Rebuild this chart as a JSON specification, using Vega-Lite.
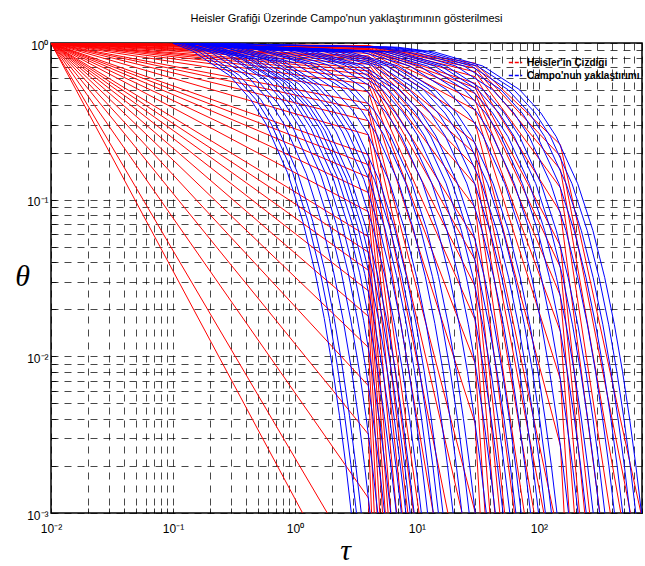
{
"$schema": "https://vega.github.io/schema/vega-lite/v6.json",
"width": 591, "height": 470,
"autosize": "none",
"padding": {"left": 51, "top": 43, "right": 3, "bottom": 53},
"background": "white",
"title": {"text": "Heisler Grafiği Üzerinde Campo'nun yaklaştırımının gösterilmesi", "font": "Liberation Sans", "fontSize": 11, "fontWeight": "normal", "color": "#000", "anchor": "middle", "offset": 15},
"config": {"view": {"stroke": "#000", "strokeWidth": 1.5}, "font": "Liberation Sans"},
"datasets": {
"h": [
{"c":2,"t":0.01,"v":1},{"c":2,"t":4,"v":0.000164},
{"c":3,"t":0.01,"v":1},{"c":3,"t":4,"v":0.000358},
{"c":4,"t":0.01,"v":1},{"c":4,"t":4,"v":0.001245},{"c":4,"t":30,"v":4e-23},
{"c":5,"t":0.01,"v":1},{"c":5,"t":4,"v":0.00318},{"c":5,"t":30,"v":5e-20},
{"c":6,"t":0.01,"v":1},{"c":6,"t":4,"v":0.00649},{"c":6,"t":30,"v":1.2e-17},
{"c":7,"t":0.01,"v":1},{"c":7,"t":4,"v":0.0114},{"c":7,"t":30,"v":9.2e-16},
{"c":8,"t":0.01,"v":1},{"c":8,"t":4,"v":0.018},{"c":8,"t":30,"v":3.1e-14},
{"c":9,"t":0.01,"v":1},{"c":9,"t":4,"v":0.0262},{"c":9,"t":30,"v":5.6e-13},
{"c":10,"t":0.01,"v":1},{"c":10,"t":4,"v":0.0354},{"c":10,"t":30,"v":5.9e-12},
{"c":11,"t":0.01,"v":1},{"c":11,"t":4,"v":0.0462},{"c":11,"t":30,"v":4.5e-11},
{"c":12,"t":0.01,"v":1},{"c":12,"t":4,"v":0.058},{"c":12,"t":30,"v":2.55e-10},
{"c":13,"t":0.01,"v":1},{"c":13,"t":4,"v":0.0838},{"c":13,"t":30,"v":4.4e-9},
{"c":14,"t":0.01,"v":1},{"c":14,"t":4,"v":0.111},{"c":14,"t":30,"v":3.85e-8},
{"c":15,"t":0.01,"v":1},{"c":15,"t":4,"v":0.139},{"c":15,"t":30,"v":2.2e-7},
{"c":16,"t":0.01,"v":1},{"c":16,"t":4,"v":0.167},{"c":16,"t":30,"v":9.3e-7},
{"c":17,"t":0.01,"v":1},{"c":17,"t":4,"v":0.194},{"c":17,"t":30,"v":2.95e-6},
{"c":18,"t":0.01,"v":1},{"c":18,"t":4,"v":0.259},{"c":18,"t":30,"v":2.75e-5},
{"c":19,"t":0.01,"v":1},{"c":19,"t":4,"v":0.319},{"c":19,"t":30,"v":1.39e-4},
{"c":20,"t":0.01,"v":1},{"c":20,"t":4,"v":0.37},{"c":20,"t":30,"v":4.37e-4},
{"c":21,"t":0.01,"v":1},{"c":21,"t":4,"v":0.412},{"c":21,"t":30,"v":0.00101},{"c":21,"t":150,"v":9e-16},
{"c":22,"t":0.01,"v":1},{"c":22,"t":4,"v":0.4875},{"c":22,"t":30,"v":0.00374},{"c":22,"t":150,"v":6.3e-13},
{"c":23,"t":0.01,"v":1},{"c":23,"t":4,"v":0.546},{"c":23,"t":30,"v":0.00903},{"c":23,"t":150,"v":5.3e-11},
{"c":24,"t":0.01,"v":1},{"c":24,"t":4,"v":0.593},{"c":24,"t":30,"v":0.0171},{"c":24,"t":150,"v":1.3e-9},
{"c":25,"t":0.01,"v":1},{"c":25,"t":4,"v":0.631},{"c":25,"t":30,"v":0.0279},{"c":25,"t":150,"v":1.56e-8},
{"c":26,"t":0.01,"v":1},{"c":26,"t":4,"v":0.6635},{"c":26,"t":30,"v":0.0411},{"c":26,"t":150,"v":1.09e-7},
{"c":27,"t":0.01,"v":1},{"c":27,"t":4,"v":0.69},{"c":27,"t":30,"v":0.0557},{"c":27,"t":150,"v":5e-7},
{"c":28,"t":0.01,"v":1},{"c":28,"t":4,"v":0.733},{"c":28,"t":30,"v":0.089},{"c":28,"t":150,"v":5.3e-6},
{"c":29,"t":0.01,"v":1},{"c":29,"t":4,"v":0.7656},{"c":29,"t":30,"v":0.125},{"c":29,"t":150,"v":2.9e-5},
{"c":30,"t":0.01,"v":1},{"c":30,"t":4,"v":0.791},{"c":30,"t":30,"v":0.161},{"c":30,"t":150,"v":1.04e-4},
{"c":31,"t":0.01,"v":1},{"c":31,"t":4,"v":0.811},{"c":31,"t":30,"v":0.196},{"c":31,"t":150,"v":2.8e-4},
{"c":32,"t":0.01,"v":1},{"c":32,"t":4,"v":0.828},{"c":32,"t":30,"v":0.2305},{"c":32,"t":150,"v":6.3e-4},
{"c":33,"t":0.01,"v":1},{"c":33,"t":4,"v":0.8595},{"c":33,"t":30,"v":0.3077},{"c":33,"t":150,"v":0.00269},{"c":33,"t":700,"v":1e-12},
{"c":34,"t":0.01,"v":1},{"c":34,"t":4,"v":0.881},{"c":34,"t":30,"v":0.3736},{"c":34,"t":150,"v":0.00712},{"c":34,"t":700,"v":9e-11},
{"c":35,"t":0.01,"v":1},{"c":35,"t":4,"v":0.897},{"c":35,"t":30,"v":0.4298},{"c":35,"t":150,"v":0.0144},{"c":35,"t":700,"v":2.5e-9},
{"c":36,"t":0.01,"v":1},{"c":36,"t":4,"v":0.909},{"c":36,"t":30,"v":0.4771},{"c":36,"t":150,"v":0.02434},{"c":36,"t":700,"v":2.9e-8},
{"c":37,"t":0.01,"v":1},{"c":37,"t":4,"v":0.919},{"c":37,"t":30,"v":0.5188},{"c":37,"t":150,"v":0.037},{"c":37,"t":700,"v":2.05e-7},
{"c":38,"t":0.01,"v":1},{"c":38,"t":4,"v":0.9265},{"c":38,"t":30,"v":0.5523},{"c":38,"t":150,"v":0.0507},{"c":38,"t":700,"v":8.9e-7},
{"c":39,"t":0.01,"v":1},{"c":39,"t":4,"v":0.9384},{"c":39,"t":30,"v":0.6094},{"c":39,"t":150,"v":0.0831},{"c":39,"t":700,"v":9e-6},
{"c":40,"t":0.01,"v":1},{"c":40,"t":4,"v":0.947},{"c":40,"t":30,"v":0.6547},{"c":40,"t":150,"v":0.1191},{"c":40,"t":700,"v":4.8e-5},
{"c":41,"t":0.01,"v":1},{"c":41,"t":4,"v":0.9536},{"c":41,"t":30,"v":0.6908},{"c":41,"t":150,"v":0.156},{"c":41,"t":700,"v":1.7e-4},
{"c":42,"t":0.01,"v":1},{"c":42,"t":4,"v":0.9584},{"c":42,"t":30,"v":0.7181},{"c":42,"t":150,"v":0.1895},{"c":42,"t":700,"v":4.24e-4},
{"c":43,"t":0.01,"v":1},{"c":43,"t":4,"v":0.9625},{"c":43,"t":30,"v":0.7428},{"c":43,"t":150,"v":0.2245},{"c":43,"t":700,"v":0.000933}
],
"b": [
{"c":1,"t":0.1,"v":0.995},{"c":1,"t":0.145,"v":0.888},{"c":1,"t":0.29,"v":0.621},{"c":1,"t":0.435,"v":0.435},{"c":1,"t":0.58,"v":0.304},{"c":1,"t":0.869,"v":0.1488},{"c":1,"t":1.159,"v":0.0728},{"c":1,"t":1.449,"v":0.03564},{"c":1,"t":1.739,"v":0.01744},{"c":1,"t":2.029,"v":0.00853},{"c":1,"t":2.318,"v":0.00418},{"c":1,"t":2.608,"v":0.00204},{"c":1,"t":2.898,"v":0.001},
{"c":2,"t":0.1,"v":1.015},{"c":2,"t":0.16,"v":0.888},{"c":2,"t":0.319,"v":0.621},{"c":2,"t":0.479,"v":0.435},{"c":2,"t":0.639,"v":0.304},{"c":2,"t":0.958,"v":0.1488},{"c":2,"t":1.277,"v":0.0728},{"c":2,"t":1.597,"v":0.03564},{"c":2,"t":1.916,"v":0.01744},{"c":2,"t":2.235,"v":0.00853},{"c":2,"t":2.554,"v":0.00418},{"c":2,"t":2.874,"v":0.00204},{"c":2,"t":3.193,"v":0.001},
{"c":3,"t":0.1,"v":1.029},{"c":3,"t":0.175,"v":0.888},{"c":3,"t":0.35,"v":0.621},{"c":3,"t":0.525,"v":0.435},{"c":3,"t":0.699,"v":0.304},{"c":3,"t":1.049,"v":0.1488},{"c":3,"t":1.399,"v":0.0728},{"c":3,"t":1.749,"v":0.03564},{"c":3,"t":2.098,"v":0.01744},{"c":3,"t":2.448,"v":0.00853},{"c":3,"t":2.798,"v":0.00418},{"c":3,"t":3.147,"v":0.00204},{"c":3,"t":3.497,"v":0.001},
{"c":4,"t":0.1,"v":1.044},{"c":4,"t":0.206,"v":0.869},{"c":4,"t":0.413,"v":0.608},{"c":4,"t":0.619,"v":0.426},{"c":4,"t":0.825,"v":0.298},{"c":4,"t":1.238,"v":0.1464},{"c":4,"t":1.651,"v":0.0718},{"c":4,"t":2.064,"v":0.0352},{"c":4,"t":2.476,"v":0.01728},{"c":4,"t":2.889,"v":0.00847},{"c":4,"t":3.302,"v":0.00416},{"c":4,"t":3.714,"v":0.00204},{"c":4,"t":4.127,"v":0.001},
{"c":5,"t":0.1,"v":1.048},{"c":5,"t":0.239,"v":0.846},{"c":5,"t":0.478,"v":0.593},{"c":5,"t":0.717,"v":0.416},{"c":5,"t":0.956,"v":0.292},{"c":5,"t":1.434,"v":0.1435},{"c":5,"t":1.912,"v":0.0706},{"c":5,"t":2.39,"v":0.0347},{"c":5,"t":2.867,"v":0.01708},{"c":5,"t":3.345,"v":0.0084},{"c":5,"t":3.823,"v":0.00413},{"c":5,"t":4.301,"v":0.00203},{"c":5,"t":4.779,"v":0.001},
{"c":6,"t":0.1,"v":1.05},{"c":6,"t":0.272,"v":0.846},{"c":6,"t":0.544,"v":0.593},{"c":6,"t":0.815,"v":0.416},{"c":6,"t":1.087,"v":0.292},{"c":6,"t":1.631,"v":0.1435},{"c":6,"t":2.174,"v":0.0706},{"c":6,"t":2.718,"v":0.0347},{"c":6,"t":3.261,"v":0.01708},{"c":6,"t":3.805,"v":0.0084},{"c":6,"t":4.348,"v":0.00413},{"c":6,"t":4.892,"v":0.00203},{"c":6,"t":5.435,"v":0.001},
{"c":7,"t":0.1,"v":1.049},{"c":7,"t":0.305,"v":0.822},{"c":7,"t":0.61,"v":0.577},{"c":7,"t":0.915,"v":0.4055},{"c":7,"t":1.22,"v":0.2848},{"c":7,"t":1.829,"v":0.1405},{"c":7,"t":2.439,"v":0.0693},{"c":7,"t":3.049,"v":0.0342},{"c":7,"t":3.659,"v":0.01688},{"c":7,"t":4.269,"v":0.00832},{"c":7,"t":4.878,"v":0.00411},{"c":7,"t":5.488,"v":0.00203},{"c":7,"t":6.098,"v":0.001},
{"c":8,"t":0.1,"v":1.046},{"c":8,"t":0.136,"v":1.016},{"c":8,"t":0.339,"v":0.822},{"c":8,"t":0.678,"v":0.577},{"c":8,"t":1.016,"v":0.4055},{"c":8,"t":1.355,"v":0.2848},{"c":8,"t":2.033,"v":0.1405},{"c":8,"t":2.71,"v":0.0693},{"c":8,"t":3.388,"v":0.0342},{"c":8,"t":4.066,"v":0.01688},{"c":8,"t":4.743,"v":0.00832},{"c":8,"t":5.421,"v":0.00411},{"c":8,"t":6.098,"v":0.00203},{"c":8,"t":6.776,"v":0.001},
{"c":9,"t":0.1,"v":1.043},{"c":9,"t":0.149,"v":0.99},{"c":9,"t":0.373,"v":0.802},{"c":9,"t":0.746,"v":0.564},{"c":9,"t":1.118,"v":0.3966},{"c":9,"t":1.491,"v":0.279},{"c":9,"t":2.237,"v":0.138},{"c":9,"t":2.982,"v":0.0683},{"c":9,"t":3.728,"v":0.0338},{"c":9,"t":4.474,"v":0.0167},{"c":9,"t":5.219,"v":0.00826},{"c":9,"t":5.965,"v":0.00409},{"c":9,"t":6.71,"v":0.00202},{"c":9,"t":7.456,"v":0.001},
{"c":10,"t":0.1,"v":1.04},{"c":10,"t":0.162,"v":0.99},{"c":10,"t":0.406,"v":0.802},{"c":10,"t":0.812,"v":0.564},{"c":10,"t":1.218,"v":0.3966},{"c":10,"t":1.624,"v":0.279},{"c":10,"t":2.435,"v":0.138},{"c":10,"t":3.247,"v":0.0683},{"c":10,"t":4.059,"v":0.0338},{"c":10,"t":4.871,"v":0.0167},{"c":10,"t":5.683,"v":0.00826},{"c":10,"t":6.494,"v":0.00409},{"c":10,"t":7.306,"v":0.00202},{"c":10,"t":8.118,"v":0.001},
{"c":11,"t":0.1,"v":1.04},{"c":11,"t":0.176,"v":0.975},{"c":11,"t":0.44,"v":0.79},{"c":11,"t":0.88,"v":0.556},{"c":11,"t":1.32,"v":0.391},{"c":11,"t":1.76,"v":0.2754},{"c":11,"t":2.641,"v":0.1365},{"c":11,"t":3.521,"v":0.0676},{"c":11,"t":4.401,"v":0.0335},{"c":11,"t":5.281,"v":0.0166},{"c":11,"t":6.161,"v":0.00822},{"c":11,"t":7.042,"v":0.00407},{"c":11,"t":7.922,"v":0.00202},{"c":11,"t":8.802,"v":0.001},
{"c":12,"t":0.1,"v":1.039},{"c":12,"t":0.19,"v":0.975},{"c":12,"t":0.474,"v":0.79},{"c":12,"t":0.949,"v":0.556},{"c":12,"t":1.423,"v":0.391},{"c":12,"t":1.897,"v":0.2754},{"c":12,"t":2.846,"v":0.1365},{"c":12,"t":3.794,"v":0.0676},{"c":12,"t":4.743,"v":0.0335},{"c":12,"t":5.692,"v":0.0166},{"c":12,"t":6.64,"v":0.00822},{"c":12,"t":7.589,"v":0.00407},{"c":12,"t":8.537,"v":0.00202},{"c":12,"t":9.486,"v":0.001},
{"c":13,"t":0.1,"v":1.036},{"c":13,"t":0.217,"v":0.9554},{"c":13,"t":0.543,"v":0.7743},{"c":13,"t":1.087,"v":0.5457},{"c":13,"t":1.63,"v":0.3844},{"c":13,"t":2.173,"v":0.2709},{"c":13,"t":3.26,"v":0.1345},{"c":13,"t":4.347,"v":0.0668},{"c":13,"t":5.434,"v":0.0331},{"c":13,"t":6.52,"v":0.01646},{"c":13,"t":7.607,"v":0.00817},{"c":13,"t":8.694,"v":0.00406},{"c":13,"t":9.78,"v":0.00201},{"c":13,"t":10.867,"v":0.001},
{"c":14,"t":0.1,"v":1.032},{"c":14,"t":0.245,"v":0.9554},{"c":14,"t":0.612,"v":0.7743},{"c":14,"t":1.223,"v":0.5457},{"c":14,"t":1.835,"v":0.3844},{"c":14,"t":2.446,"v":0.2709},{"c":14,"t":3.67,"v":0.1345},{"c":14,"t":4.893,"v":0.0668},{"c":14,"t":6.116,"v":0.0331},{"c":14,"t":7.339,"v":0.01646},{"c":14,"t":8.562,"v":0.00817},{"c":14,"t":9.786,"v":0.00406},{"c":14,"t":11.009,"v":0.00201},{"c":14,"t":12.232,"v":0.001},
{"c":15,"t":0.1,"v":1.03},{"c":15,"t":0.272,"v":0.9367},{"c":15,"t":0.681,"v":0.7596},{"c":15,"t":1.361,"v":0.5358},{"c":15,"t":2.042,"v":0.3779},{"c":15,"t":2.722,"v":0.2666},{"c":15,"t":4.084,"v":0.1326},{"c":15,"t":5.445,"v":0.066},{"c":15,"t":6.806,"v":0.0328},{"c":15,"t":8.167,"v":0.01633},{"c":15,"t":9.528,"v":0.00812},{"c":15,"t":10.89,"v":0.00404},{"c":15,"t":12.251,"v":0.00201},{"c":15,"t":13.612,"v":0.001},
{"c":16,"t":0.1,"v":1.0275},{"c":16,"t":0.3,"v":0.9367},{"c":16,"t":0.75,"v":0.7596},{"c":16,"t":1.5,"v":0.5358},{"c":16,"t":2.25,"v":0.3779},{"c":16,"t":3.0,"v":0.2666},{"c":16,"t":4.499,"v":0.1326},{"c":16,"t":5.999,"v":0.066},{"c":16,"t":7.499,"v":0.0328},{"c":16,"t":8.999,"v":0.01633},{"c":16,"t":10.499,"v":0.00812},{"c":16,"t":11.998,"v":0.00404},{"c":16,"t":13.498,"v":0.00201},{"c":16,"t":14.998,"v":0.001},
{"c":17,"t":0.1,"v":1.0254},{"c":17,"t":0.327,"v":0.9367},{"c":17,"t":0.817,"v":0.7596},{"c":17,"t":1.634,"v":0.5358},{"c":17,"t":2.452,"v":0.3779},{"c":17,"t":3.269,"v":0.2666},{"c":17,"t":4.903,"v":0.1326},{"c":17,"t":6.538,"v":0.066},{"c":17,"t":8.172,"v":0.0328},{"c":17,"t":9.806,"v":0.01633},{"c":17,"t":11.441,"v":0.00812},{"c":17,"t":13.075,"v":0.00404},{"c":17,"t":14.71,"v":0.00201},{"c":17,"t":16.344,"v":0.001},
{"c":18,"t":0.1,"v":1.021},{"c":18,"t":0.396,"v":0.9171},{"c":18,"t":0.99,"v":0.7442},{"c":18,"t":1.979,"v":0.5255},{"c":18,"t":2.969,"v":0.371},{"c":18,"t":3.958,"v":0.262},{"c":18,"t":5.937,"v":0.1306},{"c":18,"t":7.916,"v":0.0651},{"c":18,"t":9.895,"v":0.03246},{"c":18,"t":11.874,"v":0.01619},{"c":18,"t":13.853,"v":0.00807},{"c":18,"t":15.832,"v":0.00402},{"c":18,"t":17.811,"v":0.002},{"c":18,"t":19.79,"v":0.001},
{"c":19,"t":0.1,"v":1.0186},{"c":19,"t":0.468,"v":0.9171},{"c":19,"t":1.169,"v":0.7442},{"c":19,"t":2.338,"v":0.5255},{"c":19,"t":3.507,"v":0.371},{"c":19,"t":4.676,"v":0.262},{"c":19,"t":7.014,"v":0.1306},{"c":19,"t":9.352,"v":0.0651},{"c":19,"t":11.69,"v":0.03246},{"c":19,"t":14.028,"v":0.01619},{"c":19,"t":16.366,"v":0.00807},{"c":19,"t":18.704,"v":0.00402},{"c":19,"t":21.042,"v":0.002},{"c":19,"t":23.38,"v":0.001},
{"c":20,"t":0.1,"v":1.0163},{"c":20,"t":0.536,"v":0.905},{"c":20,"t":1.341,"v":0.7347},{"c":20,"t":2.681,"v":0.5192},{"c":20,"t":4.022,"v":0.3668},{"c":20,"t":5.362,"v":0.2592},{"c":20,"t":8.043,"v":0.1294},{"c":20,"t":10.724,"v":0.0646},{"c":20,"t":13.405,"v":0.03225},{"c":20,"t":16.086,"v":0.0161},{"c":20,"t":18.767,"v":0.00803},{"c":20,"t":21.448,"v":0.00401},{"c":20,"t":24.129,"v":0.002},{"c":20,"t":26.81,"v":0.001},
{"c":21,"t":0.1,"v":1.0133},{"c":21,"t":0.601,"v":0.905},{"c":21,"t":1.503,"v":0.7347},{"c":21,"t":3.006,"v":0.5192},{"c":21,"t":4.509,"v":0.3668},{"c":21,"t":6.012,"v":0.2592},{"c":21,"t":9.018,"v":0.1294},{"c":21,"t":12.024,"v":0.0646},{"c":21,"t":15.03,"v":0.03225},{"c":21,"t":18.036,"v":0.0161},{"c":21,"t":21.042,"v":0.00803},{"c":21,"t":24.048,"v":0.00401},{"c":21,"t":27.054,"v":0.002},{"c":21,"t":30.06,"v":0.001},
{"c":22,"t":0.1,"v":1.012},{"c":22,"t":0.741,"v":0.894},{"c":22,"t":1.852,"v":0.726},{"c":22,"t":3.704,"v":0.5133},{"c":22,"t":5.556,"v":0.3629},{"c":22,"t":7.408,"v":0.2566},{"c":22,"t":11.112,"v":0.1283},{"c":22,"t":14.816,"v":0.0641},{"c":22,"t":18.52,"v":0.03204},{"c":22,"t":22.224,"v":0.01602},{"c":22,"t":25.928,"v":0.008},{"c":22,"t":29.632,"v":0.004},{"c":22,"t":33.336,"v":0.002},{"c":22,"t":37.04,"v":0.001},
{"c":23,"t":0.1,"v":1.01},{"c":23,"t":0.879,"v":0.894},{"c":23,"t":2.197,"v":0.726},{"c":23,"t":4.394,"v":0.5133},{"c":23,"t":6.591,"v":0.3629},{"c":23,"t":8.788,"v":0.2566},{"c":23,"t":13.182,"v":0.1283},{"c":23,"t":17.576,"v":0.0641},{"c":23,"t":21.97,"v":0.03204},{"c":23,"t":26.364,"v":0.01602},{"c":23,"t":30.758,"v":0.008},{"c":23,"t":35.152,"v":0.004},{"c":23,"t":39.546,"v":0.002},{"c":23,"t":43.94,"v":0.001},
{"c":24,"t":0.1,"v":1.009},{"c":24,"t":1.016,"v":0.894},{"c":24,"t":2.541,"v":0.726},{"c":24,"t":5.081,"v":0.5133},{"c":24,"t":7.622,"v":0.3629},{"c":24,"t":10.162,"v":0.2566},{"c":24,"t":15.243,"v":0.1283},{"c":24,"t":20.324,"v":0.0641},{"c":24,"t":25.405,"v":0.03204},{"c":24,"t":30.486,"v":0.01602},{"c":24,"t":35.567,"v":0.008},{"c":24,"t":40.648,"v":0.004},{"c":24,"t":45.729,"v":0.002},{"c":24,"t":50.81,"v":0.001},
{"c":25,"t":0.1,"v":1.007},{"c":25,"t":1.155,"v":0.8856},{"c":25,"t":2.887,"v":0.7194},{"c":25,"t":5.773,"v":0.5089},{"c":25,"t":8.66,"v":0.36},{"c":25,"t":11.546,"v":0.2546},{"c":25,"t":17.319,"v":0.1274},{"c":25,"t":23.092,"v":0.0637},{"c":25,"t":28.865,"v":0.0319},{"c":25,"t":34.638,"v":0.01596},{"c":25,"t":40.411,"v":0.00798},{"c":25,"t":46.184,"v":0.00399},{"c":25,"t":51.957,"v":0.002},{"c":25,"t":57.73,"v":0.001},
{"c":26,"t":0.1,"v":1.007},{"c":26,"t":1.295,"v":0.8856},{"c":26,"t":3.237,"v":0.7194},{"c":26,"t":6.473,"v":0.5089},{"c":26,"t":9.71,"v":0.36},{"c":26,"t":12.946,"v":0.2546},{"c":26,"t":19.419,"v":0.1274},{"c":26,"t":25.892,"v":0.0637},{"c":26,"t":32.365,"v":0.0319},{"c":26,"t":38.838,"v":0.01596},{"c":26,"t":45.311,"v":0.00798},{"c":26,"t":51.784,"v":0.00399},{"c":26,"t":58.257,"v":0.002},{"c":26,"t":64.73,"v":0.001},
{"c":27,"t":0.1,"v":1.006},{"c":27,"t":1.431,"v":0.8856},{"c":27,"t":3.577,"v":0.7194},{"c":27,"t":7.153,"v":0.5089},{"c":27,"t":10.73,"v":0.36},{"c":27,"t":14.306,"v":0.2546},{"c":27,"t":21.459,"v":0.1274},{"c":27,"t":28.612,"v":0.0637},{"c":27,"t":35.765,"v":0.0319},{"c":27,"t":42.918,"v":0.01596},{"c":27,"t":50.071,"v":0.00798},{"c":27,"t":57.224,"v":0.00399},{"c":27,"t":64.377,"v":0.002},{"c":27,"t":71.53,"v":0.001},
{"c":28,"t":0.1,"v":1.0055},{"c":28,"t":1.707,"v":0.8856},{"c":28,"t":4.267,"v":0.7194},{"c":28,"t":8.534,"v":0.5089},{"c":28,"t":12.801,"v":0.36},{"c":28,"t":17.068,"v":0.2546},{"c":28,"t":25.602,"v":0.1274},{"c":28,"t":34.136,"v":0.0637},{"c":28,"t":42.67,"v":0.0319},{"c":28,"t":51.204,"v":0.01596},{"c":28,"t":59.738,"v":0.00798},{"c":28,"t":68.272,"v":0.00399},{"c":28,"t":76.806,"v":0.002},{"c":28,"t":85.34,"v":0.001},
{"c":29,"t":0.1,"v":1.003},{"c":29,"t":1.985,"v":0.877},{"c":29,"t":4.964,"v":0.713},{"c":29,"t":9.927,"v":0.504},{"c":29,"t":14.891,"v":0.357},{"c":29,"t":19.854,"v":0.2525},{"c":29,"t":29.781,"v":0.1265},{"c":29,"t":39.708,"v":0.0634},{"c":29,"t":49.635,"v":0.03175},{"c":29,"t":59.562,"v":0.0159},{"c":29,"t":69.489,"v":0.00796},{"c":29,"t":79.416,"v":0.00398},{"c":29,"t":89.343,"v":0.002},{"c":29,"t":99.27,"v":0.001},
{"c":30,"t":0.1,"v":1.003},{"c":30,"t":2.26,"v":0.877},{"c":30,"t":5.65,"v":0.713},{"c":30,"t":11.3,"v":0.504},{"c":30,"t":16.95,"v":0.357},{"c":30,"t":22.6,"v":0.2525},{"c":30,"t":33.9,"v":0.1265},{"c":30,"t":45.2,"v":0.0634},{"c":30,"t":56.5,"v":0.03175},{"c":30,"t":67.8,"v":0.0159},{"c":30,"t":79.1,"v":0.00796},{"c":30,"t":90.4,"v":0.00398},{"c":30,"t":101.7,"v":0.002},{"c":30,"t":113,"v":0.001},
{"c":31,"t":0.1,"v":1.003},{"c":31,"t":2.534,"v":0.877},{"c":31,"t":6.335,"v":0.713},{"c":31,"t":12.67,"v":0.504},{"c":31,"t":19.005,"v":0.357},{"c":31,"t":25.34,"v":0.2525},{"c":31,"t":38.01,"v":0.1265},{"c":31,"t":50.68,"v":0.0634},{"c":31,"t":63.35,"v":0.03175},{"c":31,"t":76.02,"v":0.0159},{"c":31,"t":88.69,"v":0.00796},{"c":31,"t":101.36,"v":0.00398},{"c":31,"t":114.03,"v":0.002},{"c":31,"t":126.7,"v":0.001},
{"c":32,"t":0.1,"v":1.003},{"c":32,"t":2.812,"v":0.877},{"c":32,"t":7.03,"v":0.713},{"c":32,"t":14.06,"v":0.504},{"c":32,"t":21.09,"v":0.357},{"c":32,"t":28.12,"v":0.2525},{"c":32,"t":42.18,"v":0.1265},{"c":32,"t":56.24,"v":0.0634},{"c":32,"t":70.3,"v":0.03175},{"c":32,"t":84.36,"v":0.0159},{"c":32,"t":98.42,"v":0.00796},{"c":32,"t":112.48,"v":0.00398},{"c":32,"t":126.54,"v":0.002},{"c":32,"t":140.6,"v":0.001},
{"c":33,"t":0.1,"v":1.003},{"c":33,"t":3.5,"v":0.877},{"c":33,"t":8.75,"v":0.713},{"c":33,"t":17.5,"v":0.504},{"c":33,"t":26.25,"v":0.357},{"c":33,"t":35,"v":0.2525},{"c":33,"t":52.5,"v":0.1265},{"c":33,"t":70,"v":0.0634},{"c":33,"t":87.5,"v":0.03175},{"c":33,"t":105,"v":0.0159},{"c":33,"t":122.5,"v":0.00796},{"c":33,"t":140,"v":0.00398},{"c":33,"t":157.5,"v":0.002},{"c":33,"t":175,"v":0.001},
{"c":34,"t":0.1,"v":1.003},{"c":34,"t":4.19,"v":0.877},{"c":34,"t":10.475,"v":0.713},{"c":34,"t":20.95,"v":0.504},{"c":34,"t":31.425,"v":0.357},{"c":34,"t":41.9,"v":0.2525},{"c":34,"t":62.85,"v":0.1265},{"c":34,"t":83.8,"v":0.0634},{"c":34,"t":104.75,"v":0.03175},{"c":34,"t":125.7,"v":0.0159},{"c":34,"t":146.65,"v":0.00796},{"c":34,"t":167.6,"v":0.00398},{"c":34,"t":188.55,"v":0.002},{"c":34,"t":209.5,"v":0.001},
{"c":35,"t":0.1,"v":1.003},{"c":35,"t":4.886,"v":0.877},{"c":35,"t":12.215,"v":0.713},{"c":35,"t":24.43,"v":0.504},{"c":35,"t":36.645,"v":0.357},{"c":35,"t":48.86,"v":0.2525},{"c":35,"t":73.29,"v":0.1265},{"c":35,"t":97.72,"v":0.0634},{"c":35,"t":122.15,"v":0.03175},{"c":35,"t":146.58,"v":0.0159},{"c":35,"t":171.01,"v":0.00796},{"c":35,"t":195.44,"v":0.00398},{"c":35,"t":219.87,"v":0.002},{"c":35,"t":244.3,"v":0.001},
{"c":36,"t":0.1,"v":1.003},{"c":36,"t":5.574,"v":0.877},{"c":36,"t":13.935,"v":0.713},{"c":36,"t":27.87,"v":0.504},{"c":36,"t":41.805,"v":0.357},{"c":36,"t":55.74,"v":0.2525},{"c":36,"t":83.61,"v":0.1265},{"c":36,"t":111.48,"v":0.0634},{"c":36,"t":139.35,"v":0.03175},{"c":36,"t":167.22,"v":0.0159},{"c":36,"t":195.09,"v":0.00796},{"c":36,"t":222.96,"v":0.00398},{"c":36,"t":250.83,"v":0.002},{"c":36,"t":278.7,"v":0.001},
{"c":37,"t":0.1,"v":1.003},{"c":37,"t":6.284,"v":0.877},{"c":37,"t":15.71,"v":0.713},{"c":37,"t":31.42,"v":0.504},{"c":37,"t":47.13,"v":0.357},{"c":37,"t":62.84,"v":0.2525},{"c":37,"t":94.26,"v":0.1265},{"c":37,"t":125.68,"v":0.0634},{"c":37,"t":157.1,"v":0.03175},{"c":37,"t":188.52,"v":0.0159},{"c":37,"t":219.94,"v":0.00796},{"c":37,"t":251.36,"v":0.00398},{"c":37,"t":282.78,"v":0.002},{"c":37,"t":314.2,"v":0.001},
{"c":38,"t":0.1,"v":1.003},{"c":38,"t":6.946,"v":0.877},{"c":38,"t":17.365,"v":0.713},{"c":38,"t":34.73,"v":0.504},{"c":38,"t":52.095,"v":0.357},{"c":38,"t":69.46,"v":0.2525},{"c":38,"t":104.19,"v":0.1265},{"c":38,"t":138.92,"v":0.0634},{"c":38,"t":173.65,"v":0.03175},{"c":38,"t":208.38,"v":0.0159},{"c":38,"t":243.11,"v":0.00796},{"c":38,"t":277.84,"v":0.00398},{"c":38,"t":312.57,"v":0.002},{"c":38,"t":347.3,"v":0.001},
{"c":39,"t":0.1,"v":1.003},{"c":39,"t":4.163,"v":0.94},{"c":39,"t":8.326,"v":0.877},{"c":39,"t":20.815,"v":0.713},{"c":39,"t":41.63,"v":0.504},{"c":39,"t":62.445,"v":0.357},{"c":39,"t":83.26,"v":0.2525},{"c":39,"t":124.89,"v":0.1265},{"c":39,"t":166.52,"v":0.0634},{"c":39,"t":208.15,"v":0.03175},{"c":39,"t":249.78,"v":0.0159},{"c":39,"t":291.41,"v":0.00796},{"c":39,"t":333.04,"v":0.00398},{"c":39,"t":374.67,"v":0.002},{"c":39,"t":416.3,"v":0.001},
{"c":40,"t":0.1,"v":1.003},{"c":40,"t":4.866,"v":0.94},{"c":40,"t":9.732,"v":0.877},{"c":40,"t":24.33,"v":0.713},{"c":40,"t":48.66,"v":0.504},{"c":40,"t":72.99,"v":0.357},{"c":40,"t":97.32,"v":0.2525},{"c":40,"t":145.98,"v":0.1265},{"c":40,"t":194.64,"v":0.0634},{"c":40,"t":243.3,"v":0.03175},{"c":40,"t":291.96,"v":0.0159},{"c":40,"t":340.62,"v":0.00796},{"c":40,"t":389.28,"v":0.00398},{"c":40,"t":437.94,"v":0.002},{"c":40,"t":486.6,"v":0.001},
{"c":41,"t":0.1,"v":1.003},{"c":41,"t":5.572,"v":0.94},{"c":41,"t":11.144,"v":0.877},{"c":41,"t":27.86,"v":0.713},{"c":41,"t":55.72,"v":0.504},{"c":41,"t":83.58,"v":0.357},{"c":41,"t":111.44,"v":0.2525},{"c":41,"t":167.16,"v":0.1265},{"c":41,"t":222.88,"v":0.0634},{"c":41,"t":278.6,"v":0.03175},{"c":41,"t":334.32,"v":0.0159},{"c":41,"t":390.04,"v":0.00796},{"c":41,"t":445.76,"v":0.00398},{"c":41,"t":501.48,"v":0.002},{"c":41,"t":557.2,"v":0.001},
{"c":42,"t":0.1,"v":1.003},{"c":42,"t":6.225,"v":0.94},{"c":42,"t":12.45,"v":0.877},{"c":42,"t":31.125,"v":0.713},{"c":42,"t":62.25,"v":0.504},{"c":42,"t":93.375,"v":0.357},{"c":42,"t":124.5,"v":0.2525},{"c":42,"t":186.75,"v":0.1265},{"c":42,"t":249,"v":0.0634},{"c":42,"t":311.25,"v":0.03175},{"c":42,"t":373.5,"v":0.0159},{"c":42,"t":435.75,"v":0.00796},{"c":42,"t":498,"v":0.00398},{"c":42,"t":560.25,"v":0.002},{"c":42,"t":622.5,"v":0.001},
{"c":43,"t":0.1,"v":1.003},{"c":43,"t":6.93,"v":0.94},{"c":43,"t":13.86,"v":0.877},{"c":43,"t":34.65,"v":0.713},{"c":43,"t":69.3,"v":0.504},{"c":43,"t":103.95,"v":0.357},{"c":43,"t":138.6,"v":0.2525},{"c":43,"t":207.9,"v":0.1265},{"c":43,"t":277.2,"v":0.0634},{"c":43,"t":346.5,"v":0.03175},{"c":43,"t":415.8,"v":0.0159},{"c":43,"t":485.1,"v":0.00796},{"c":43,"t":554.4,"v":0.00398},{"c":43,"t":623.7,"v":0.002},{"c":43,"t":693,"v":0.001}
]
},
"layer": [
{"data": {"name": "h"},
 "mark": {"type": "line", "clip": true, "strokeWidth": 1},
 "encoding": {
  "x": {"field": "t", "type": "quantitative",
        "scale": {"type": "log", "domain": [0.01, 700], "nice": false, "zero": false},
        "axis": {"title": "τ", "titleFont": "Liberation Serif", "titleFontStyle": "italic", "titleFontSize": 30, "titleFontWeight": "normal", "titleColor": "#000", "titleX": 294, "titleY": 46, "titleBaseline": "alphabetic", "titleAlign": "center",
                 "values": [0.01,0.02,0.03,0.04,0.05,0.06,0.07,0.08,0.09,0.1,0.2,0.3,0.4,0.5,0.6,0.7,0.8,0.9,1,2,3,4,5,6,7,8,9,10,20,30,40,50,60,70,80,90,100,200,300,400,500,600,700],
                 "labelExpr": "datum.value == 0.01 ? '10⁻²' : datum.value == 0.1 ? '10⁻¹' : datum.value == 1 ? '10⁰' : datum.value == 10 ? '10¹' : datum.value == 100 ? '10²' : ''",
                 "grid": true, "gridDash": [7, 6], "gridColor": "#000", "gridOpacity": 0.9, "gridWidth": 0.8,
                 "ticks": true, "tickSize": -5, "tickColor": "#000", "tickWidth": 0.8,
                 "domain": false, "labelFont": "Liberation Sans", "labelFontSize": 12, "labelColor": "#000", "labelPadding": 15, "labelOverlap": false, "labelFlush": false}},
  "y": {"field": "v", "type": "quantitative",
        "scale": {"type": "log", "domain": [0.001, 1], "nice": false, "zero": false},
        "axis": {"title": "θ", "titleFont": "Liberation Serif", "titleFontStyle": "italic", "titleFontSize": 30, "titleFontWeight": "normal", "titleColor": "#000", "titleAngle": 0, "titleX": -29, "titleY": 242, "titleBaseline": "alphabetic", "titleAlign": "center",
                 "values": [0.001,0.002,0.003,0.004,0.005,0.006,0.007,0.008,0.009,0.01,0.02,0.03,0.04,0.05,0.06,0.07,0.08,0.09,0.1,0.2,0.3,0.4,0.5,0.6,0.7,0.8,0.9,1],
                 "labelExpr": "datum.value == 0.001 ? '10⁻³' : datum.value == 0.01 ? '10⁻²' : datum.value == 0.1 ? '10⁻¹' : datum.value == 1 ? '10⁰' : ''",
                 "grid": true, "gridDash": [7, 6], "gridColor": "#000", "gridOpacity": 0.9, "gridWidth": 0.8,
                 "ticks": true, "tickSize": -5, "tickColor": "#000", "tickWidth": 0.8,
                 "domain": false, "labelFont": "Liberation Sans", "labelFontSize": 12, "labelColor": "#000", "labelPadding": 8, "labelOffset": 2, "labelOverlap": false, "labelFlush": false}},
  "detail": {"field": "c", "type": "nominal"},
  "color": {"datum": "Heisler'in Çizdiği",
            "scale": {"domain": ["Heisler'in Çizdiği", "Campo'nun yaklaştırımı"], "range": ["#ff0000", "#0000ff"]},
            "legend": {"title": null, "orient": "none", "legendX": 457, "legendY": 12, "symbolType": "stroke", "symbolDash": [4, 2], "symbolStrokeWidth": 1.5, "symbolSize": 180, "labelFont": "Liberation Sans", "labelFontSize": 10, "labelFontWeight": "bold", "labelColor": "#000", "rowPadding": 0, "labelLimit": 0, "padding": 0}}
 }},
{"data": {"name": "b"},
 "mark": {"type": "line", "clip": true, "strokeWidth": 1},
 "encoding": {
  "x": {"field": "t", "type": "quantitative"},
  "y": {"field": "v", "type": "quantitative"},
  "detail": {"field": "c", "type": "nominal"},
  "color": {"datum": "Campo'nun yaklaştırımı"}
 }}
]
}
